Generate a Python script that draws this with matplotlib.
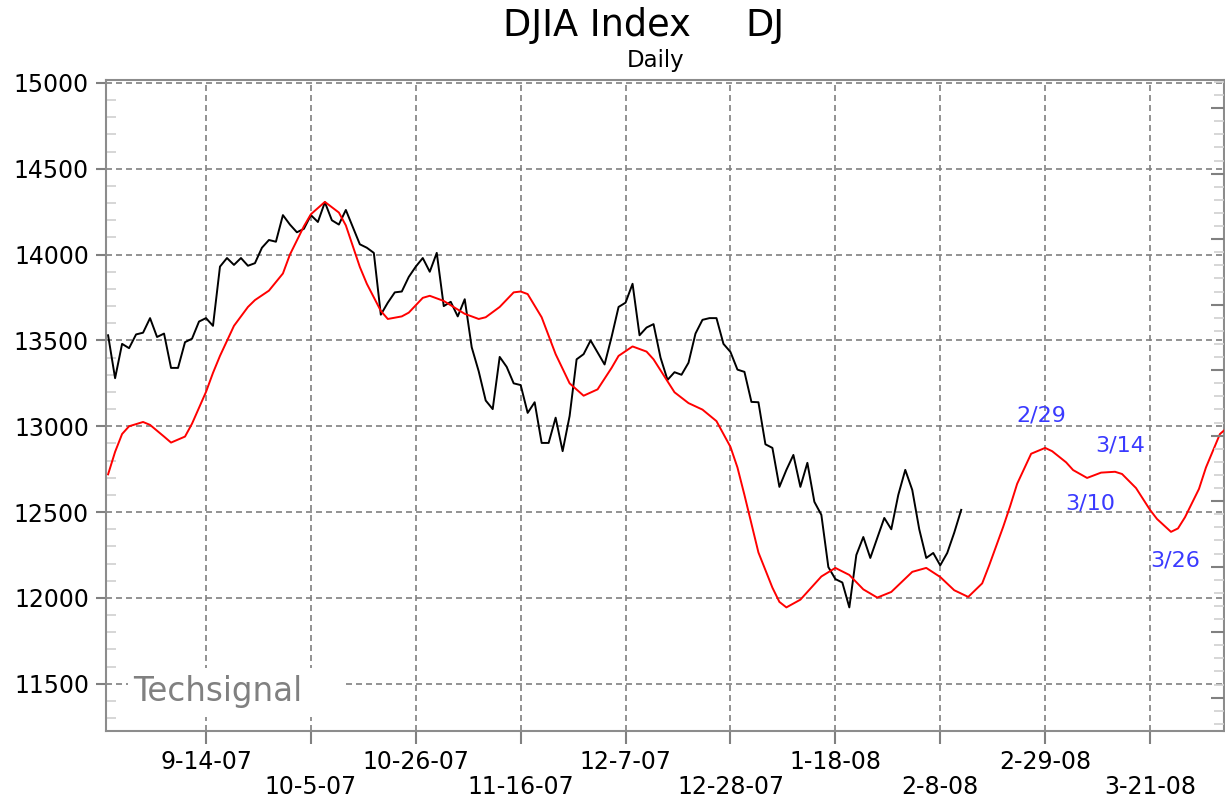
import matplotlib
matplotlib.use('Agg')
import matplotlib.pyplot as plt
from matplotlib.patches import Rectangle
from matplotlib.ticker import MultipleLocator

# x axis = trading-day index, 0 = Mon 8-27-07
tick_idx = [14, 29, 44, 59, 74, 89, 104, 119, 134, 149]
tick_labels = ['9-14-07', '10-5-07', '10-26-07', '11-16-07', '12-7-07',
               '12-28-07', '1-18-08', '2-8-08', '2-29-08', '3-21-08']

# daily DJIA close, index 0..122
djia = [13530, 13280, 13480, 13455, 13535, 13545, 13630, 13520, 13540, 13340,
        13340, 13490, 13510, 13610, 13630, 13585, 13930, 13980, 13940, 13980,
        13935, 13950, 14040, 14085, 14075, 14230, 14175, 14130, 14150, 14230,
        14190, 14305, 14200, 14175, 14260, 14160, 14060, 14040, 14010, 13650,
        13720, 13780, 13785, 13870, 13930, 13980, 13900, 14010, 13700, 13725,
        13640, 13740, 13460, 13320, 13150, 13100, 13404, 13346, 13250, 13240,
        13078, 13140, 12903, 12903, 13050, 12855, 13060, 13390, 13420, 13500,
        13430, 13360, 13520, 13695, 13720, 13830, 13530, 13575, 13595, 13400,
        13270, 13315, 13300, 13370, 13540, 13620, 13630, 13630, 13480, 13433,
        13330, 13317, 13142, 13140, 12895, 12874, 12647, 12746, 12833, 12647,
        12787, 12560, 12484, 12180, 12110, 12090, 11945, 12250, 12355, 12233,
        12350, 12466, 12400, 12600, 12746, 12629, 12400, 12233, 12262, 12190,
        12262, 12380, 12513]

# projected cycle line
cycle_idx = [0, 1, 2, 3, 5, 6, 8, 9, 11, 12, 14, 15, 16, 18, 20, 21, 23, 25,
             26, 28, 29, 31, 33, 34, 36, 37, 39, 40, 42, 43, 45, 46, 48, 51,
             53, 54, 56, 58, 59, 60, 62, 64, 65, 66, 68, 70, 72, 73, 75, 77,
             78, 80, 81, 83, 85, 87, 88, 89, 90, 91, 93, 95, 96, 97, 99, 102,
             104, 106, 108, 110, 112, 115, 117, 119, 121, 123, 125, 126, 128,
             129, 130, 132, 134, 135, 137, 138, 140, 142, 144, 145, 147, 149,
             150, 152, 153, 154, 156, 157, 159, 160]
cycle_val = [12720, 12851, 12955, 13000, 13025, 13008, 12940, 12905, 12940,
             13015, 13200, 13311, 13410, 13585, 13695, 13735, 13790, 13890,
             14000, 14165, 14235, 14307, 14245, 14170, 13928, 13830, 13672,
             13625, 13640, 13662, 13748, 13760, 13730, 13655, 13625, 13635,
             13695, 13780, 13785, 13770, 13635, 13420, 13335, 13250, 13178,
             13215, 13340, 13410, 13465, 13435, 13390, 13262, 13198, 13135,
             13097, 13030, 12955, 12880, 12760, 12600, 12265, 12060, 11977,
             11945, 11990, 12125, 12175, 12134, 12050, 12002, 12035, 12152,
             12175, 12122, 12045, 12006, 12085, 12190, 12414, 12535, 12665,
             12840, 12874, 12855, 12790, 12745, 12699, 12730, 12735, 12722,
             12640, 12513, 12460, 12385, 12405, 12470, 12635, 12760, 12955,
             12990]

grey = '#808080'
fig = plt.figure(figsize=(12.25, 7.97), dpi=100)
ax = fig.add_axes([106 / 1225, 66 / 797, 1118 / 1225, 651 / 797])
ax.set_xlim(-0.3, 159.58)
ax.set_ylim(11225, 15017)

ax.plot(range(len(djia)), djia, color='black', lw=1.4, zorder=3)
ax.plot(cycle_idx, cycle_val, color='#ff0000', lw=1.4, zorder=3)

ax.set_xticks(tick_idx[0::2])
ax.set_xticklabels(tick_labels[0::2])
ax.set_xticks(tick_idx[1::2], minor=True)
ax.set_xticklabels(tick_labels[1::2], minor=True)
ax.tick_params(axis='x', which='both', direction='out', length=9.4, width=1.5,
               color=grey, labelsize=17)
ax.tick_params(axis='x', which='major', pad=4)
ax.tick_params(axis='x', which='minor', pad=22)

ax.set_yticks(range(11500, 15001, 500))
ax.yaxis.set_minor_locator(MultipleLocator(100))
ax.tick_params(axis='y', which='major', direction='out', length=7.2, width=1.5,
               color=grey, pad=5, labelsize=17)
ax.tick_params(axis='y', which='minor', direction='in', length=7.2, width=1.2,
               color='#d0d0d0')

ax.set_axisbelow(True)
ax.grid(axis='x', which='both', color=grey, lw=1.2, linestyle=(0, (3.6, 2.4)))
ax.grid(axis='y', which='major', color=grey, lw=1.2, linestyle=(0, (3.6, 2.4)))
for s in ax.spines.values():
    s.set_color('#8c8c8c')
    s.set_linewidth(1.5)

# unlabelled scale on the right
ax2 = ax.twinx()
ax2.set_ylim(-0.51, 9.43)
ax2.set_yticks(range(10))
ax2.yaxis.set_minor_locator(MultipleLocator(0.2))
ax2.tick_params(axis='y', which='major', direction='in', length=9.4, width=1.5,
                color=grey, labelright=False)
ax2.tick_params(axis='y', which='minor', direction='in', length=7.2, width=1.2,
                color='#d0d0d0')
for s in ax2.spines.values():
    s.set_visible(False)

# watermark
ax.add_patch(Rectangle((0.0197, 0.0215), 0.192, 0.0753, transform=ax.transAxes,
                       facecolor='white', edgecolor='none', zorder=1))
ax.text(0.024, 0.061, 'Techsignal', transform=ax.transAxes, fontsize=23.5,
        color=grey, ha='left', va='center', zorder=2)

# cycle dates
blue = '#3a3aff'
ax.text(133.5, 13060, '2/29', color=blue, fontsize=16, ha='center', va='center')
ax.text(140.4, 12548, '3/10', color=blue, fontsize=16, ha='center', va='center')
ax.text(144.7, 12886, '3/14', color=blue, fontsize=16, ha='center', va='center')
ax.text(152.6, 12221, '3/26', color=blue, fontsize=16, ha='center', va='center')

fig.text(503 / 1225, 1 - 25 / 797, 'DJIA Index', fontsize=26.5, ha='left', va='center')
fig.text(745 / 1225, 1 - 25 / 797, 'DJ', fontsize=26.5, ha='left', va='center')
fig.text(656 / 1225, 1 - 60 / 797, 'Daily', fontsize=16.5, ha='center', va='center')

fig.savefig('out.png', dpi=100)
